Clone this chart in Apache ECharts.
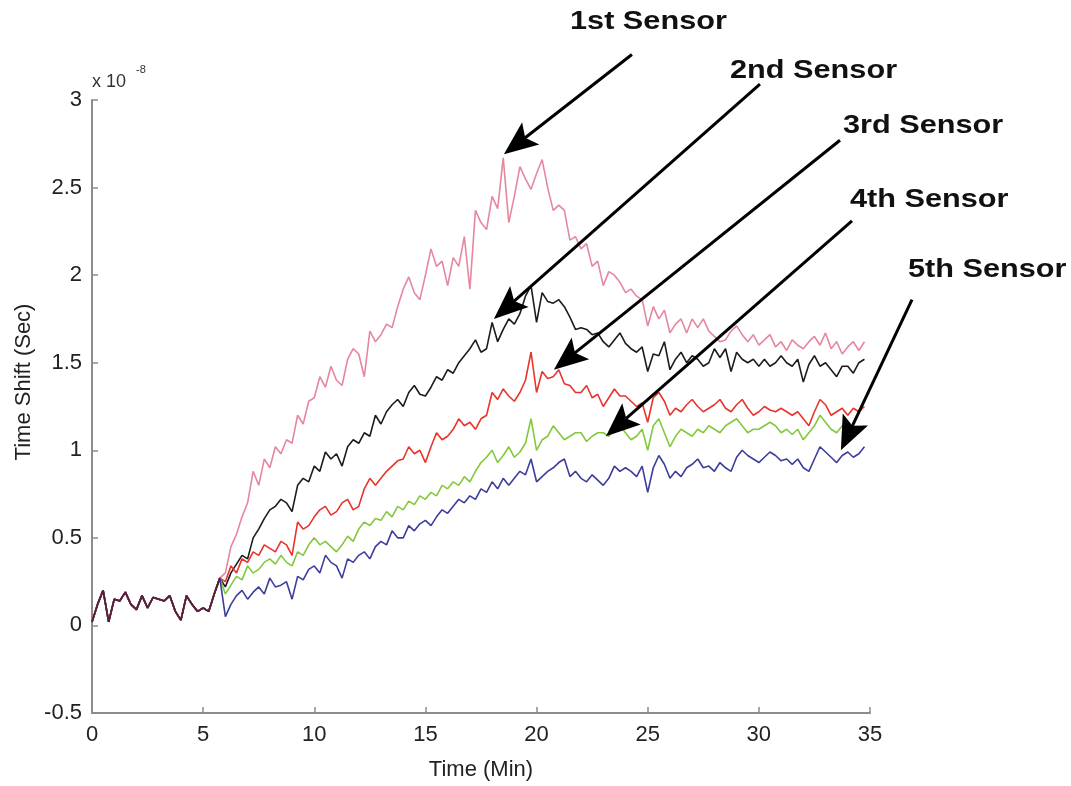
<!DOCTYPE html>
<html>
<head>
<meta charset="utf-8">
<script src="https://cdn.jsdelivr.net/npm/echarts@6/dist/echarts.min.js"></script>
<style>
html, body { margin: 0; padding: 0; background: #fff; }
#main { width: 1071px; height: 786px; }
</style>
</head>
<body>
<div id="main"></div>
<script>
// time axis (minutes): shared start, then the part where the sensors split
var baseTime = [0, 0.25, 0.5, 0.75, 1, 1.25, 1.5, 1.75, 2, 2.25, 2.5, 2.75,
    3, 3.25, 3.5, 3.75, 4, 4.25, 4.5, 4.75, 5, 5.25, 5.5, 5.75];
var sensorTime = [6, 6.25, 6.5, 6.75, 7, 7.25, 7.5, 7.75, 8, 8.25, 8.5, 8.75,
    9, 9.25, 9.5, 9.75, 10, 10.25, 10.5, 10.75, 11, 11.25, 11.5, 11.75,
    12, 12.25, 12.5, 12.75, 13, 13.25, 13.5, 13.75, 14, 14.25, 14.5, 14.75,
    15, 15.25, 15.5, 15.75, 16, 16.25, 16.5, 16.75, 17, 17.25, 17.5, 17.75,
    18, 18.25, 18.5, 18.75, 19, 19.25, 19.5, 19.75, 20, 20.25, 20.5, 20.75,
    21, 21.25, 21.5, 21.75, 22, 22.25, 22.5, 22.75, 23, 23.25, 23.5, 23.75,
    24, 24.25, 24.5, 24.75, 25, 25.25, 25.5, 25.75, 26, 26.25, 26.5, 26.75,
    27, 27.25, 27.5, 27.75, 28, 28.25, 28.5, 28.75, 29, 29.25, 29.5, 29.75,
    30, 30.25, 30.5, 30.75, 31, 31.25, 31.5, 31.75, 32, 32.25, 32.5, 32.75,
    33, 33.25, 33.5, 33.75, 34, 34.25, 34.5, 34.75];

// time shift, x 1e-8 s
var baseline = [0.02, 0.12, 0.20, 0.02, 0.15, 0.14, 0.19, 0.12, 0.09, 0.17, 0.10, 0.16,
    0.15, 0.14, 0.17, 0.08, 0.03, 0.17, 0.12, 0.08, 0.10, 0.08, 0.18, 0.27];

var sensor1 = [0.30, 0.45, 0.52, 0.62, 0.70, 0.88, 0.80, 0.95, 0.90, 1.02, 0.98, 1.06,
    1.04, 1.20, 1.15, 1.28, 1.30, 1.42, 1.36, 1.48, 1.40, 1.37, 1.52, 1.58,
    1.55, 1.42, 1.68, 1.62, 1.66, 1.72, 1.70, 1.82, 1.92, 1.99, 1.90, 1.86,
    2.00, 2.15, 2.05, 2.08, 1.94, 2.10, 2.05, 2.22, 1.92, 2.37, 2.30, 2.26,
    2.45, 2.38, 2.67, 2.30, 2.45, 2.62, 2.55, 2.49, 2.58, 2.66, 2.50, 2.37,
    2.40, 2.37, 2.20, 2.22, 2.15, 2.18, 2.05, 2.08, 1.94, 2.02, 2.00, 1.96,
    1.90, 1.92, 1.88, 1.86, 1.71, 1.82, 1.75, 1.80, 1.67, 1.72, 1.75, 1.67,
    1.75, 1.70, 1.75, 1.68, 1.65, 1.62, 1.63, 1.68, 1.71, 1.66, 1.62, 1.66,
    1.60, 1.63, 1.66, 1.59, 1.62, 1.57, 1.63, 1.60, 1.58, 1.62, 1.65, 1.60,
    1.67, 1.58, 1.62, 1.55, 1.59, 1.62, 1.57, 1.62];
var sensor2 = [0.22, 0.30, 0.35, 0.40, 0.38, 0.50, 0.55, 0.61, 0.66, 0.68, 0.72, 0.70,
    0.65, 0.80, 0.84, 0.82, 0.91, 0.88, 0.99, 0.95, 0.98, 0.91, 1.02, 1.06,
    1.04, 1.10, 1.08, 1.20, 1.15, 1.22, 1.26, 1.29, 1.25, 1.33, 1.37, 1.32,
    1.31, 1.36, 1.42, 1.40, 1.46, 1.44, 1.50, 1.54, 1.58, 1.63, 1.56, 1.58,
    1.73, 1.62, 1.69, 1.75, 1.72, 1.78, 1.88, 1.94, 1.73, 1.90, 1.85, 1.84,
    1.86, 1.82, 1.76, 1.69, 1.70, 1.69, 1.66, 1.67, 1.62, 1.59, 1.63, 1.67,
    1.61, 1.58, 1.56, 1.59, 1.45, 1.55, 1.54, 1.62, 1.46, 1.52, 1.56, 1.50,
    1.54, 1.52, 1.48, 1.50, 1.58, 1.53, 1.58, 1.45, 1.56, 1.52, 1.50, 1.52,
    1.48, 1.52, 1.48, 1.50, 1.54, 1.50, 1.48, 1.52, 1.39, 1.49, 1.54, 1.48,
    1.50, 1.46, 1.42, 1.48, 1.48, 1.44, 1.50, 1.52];
var sensor3 = [0.25, 0.34, 0.30, 0.38, 0.36, 0.42, 0.40, 0.46, 0.44, 0.42, 0.48, 0.46,
    0.40, 0.59, 0.55, 0.57, 0.62, 0.66, 0.68, 0.63, 0.65, 0.70, 0.72, 0.66,
    0.68, 0.78, 0.84, 0.80, 0.84, 0.88, 0.91, 0.94, 0.95, 1.02, 0.98, 1.00,
    0.93, 1.02, 1.10, 1.06, 1.08, 1.12, 1.18, 1.14, 1.16, 1.12, 1.18, 1.20,
    1.33, 1.29, 1.35, 1.31, 1.28, 1.33, 1.40, 1.56, 1.33, 1.45, 1.41, 1.42,
    1.46, 1.38, 1.37, 1.33, 1.33, 1.37, 1.30, 1.32, 1.25, 1.30, 1.35, 1.31,
    1.31, 1.28, 1.25, 1.27, 1.16, 1.30, 1.33, 1.28, 1.20, 1.24, 1.22, 1.26,
    1.29, 1.25, 1.22, 1.24, 1.26, 1.29, 1.24, 1.22, 1.26, 1.29, 1.24, 1.20,
    1.22, 1.25, 1.23, 1.22, 1.24, 1.22, 1.20, 1.22, 1.18, 1.14, 1.22, 1.29,
    1.26, 1.20, 1.22, 1.24, 1.20, 1.24, 1.22, 1.25];
var sensor4 = [0.18, 0.23, 0.28, 0.26, 0.34, 0.30, 0.32, 0.36, 0.38, 0.35, 0.40, 0.36,
    0.34, 0.42, 0.40, 0.46, 0.50, 0.46, 0.48, 0.45, 0.42, 0.46, 0.51, 0.48,
    0.55, 0.59, 0.57, 0.61, 0.60, 0.65, 0.62, 0.68, 0.66, 0.71, 0.69, 0.74,
    0.72, 0.76, 0.74, 0.80, 0.78, 0.82, 0.80, 0.85, 0.82, 0.88, 0.93, 0.96,
    1.00, 0.93, 0.97, 1.02, 0.96, 0.99, 1.04, 1.18, 1.00, 1.06, 1.08, 1.14,
    1.10, 1.06, 1.08, 1.10, 1.10, 1.05, 1.08, 1.10, 1.10, 1.08, 1.12, 1.14,
    1.10, 1.06, 1.08, 1.12, 1.00, 1.14, 1.18, 1.10, 1.02, 1.08, 1.12, 1.10,
    1.08, 1.12, 1.10, 1.14, 1.12, 1.10, 1.14, 1.16, 1.18, 1.14, 1.10, 1.12,
    1.12, 1.14, 1.16, 1.14, 1.10, 1.12, 1.09, 1.12, 1.06, 1.10, 1.14, 1.20,
    1.16, 1.12, 1.10, 1.14, 1.16, 1.12, 1.10, 1.14];
var sensor5 = [0.05, 0.12, 0.17, 0.20, 0.15, 0.19, 0.22, 0.18, 0.27, 0.22, 0.23, 0.25,
    0.15, 0.28, 0.26, 0.32, 0.34, 0.30, 0.40, 0.36, 0.34, 0.27, 0.38, 0.36,
    0.40, 0.42, 0.38, 0.45, 0.48, 0.46, 0.54, 0.50, 0.50, 0.57, 0.54, 0.58,
    0.60, 0.57, 0.62, 0.66, 0.64, 0.68, 0.72, 0.70, 0.74, 0.72, 0.78, 0.76,
    0.82, 0.78, 0.84, 0.80, 0.84, 0.88, 0.86, 0.95, 0.82, 0.85, 0.88, 0.90,
    0.93, 0.95, 0.85, 0.88, 0.84, 0.82, 0.86, 0.83, 0.80, 0.84, 0.91, 0.88,
    0.90, 0.88, 0.85, 0.91, 0.76, 0.90, 0.97, 0.92, 0.84, 0.88, 0.85, 0.90,
    0.92, 0.95, 0.90, 0.91, 0.88, 0.93, 0.90, 0.88, 0.96, 1.00, 0.97, 0.95,
    0.93, 0.96, 0.99, 0.97, 0.94, 0.95, 0.92, 0.95, 0.90, 0.88, 0.95, 1.02,
    0.99, 0.96, 0.93, 0.97, 0.99, 0.96, 0.98, 1.02];

var sensorNames = ['1st Sensor', '2nd Sensor', '3rd Sensor', '4th Sensor', '5th Sensor'];
var sensorColors = ['#e5879f', '#1c1c1c', '#e8342c', '#84c83e', '#3d3d9c'];
var yTicks = [-0.5, 0, 0.5, 1, 1.5, 2, 2.5, 3];

// arrow ends in data units (tail -> head)
var arrowTails = [[24.29, 3.26], [30.05, 3.09], [33.65, 2.77], [34.19, 2.31], [36.89, 1.86]];
var arrowTips = [[18.53, 2.69], [18.08, 1.75], [20.78, 1.46], [23.12, 1.08], [33.69, 1.00]];
// label boxes in px: left edge, middle y
var labelPos = [[570, 22], [730, 71], [843, 126], [850, 200], [908, 270]];

function pairs(t, v) {
    return t.map(function(x, i) { return [x, v[i]]; });
}

var myChart = echarts.init(document.getElementById('main'));
var allSensors = [sensor1, sensor2, sensor3, sensor4, sensor5];
var series = allSensors.map(function(s, i) {
    return {
        type: 'line',
        name: sensorNames[i],
        data: pairs(baseTime, baseline).concat(pairs(sensorTime, s)),
        showSymbol: false,
        lineStyle: { color: sensorColors[i], width: 1.6 },
        itemStyle: { color: sensorColors[i] },
        z: 2 + i
    };
});
// overlapped start, all sensors on top of each other
series.push({
    type: 'line',
    name: 'start',
    data: pairs(baseTime, baseline),
    showSymbol: false,
    lineStyle: { color: '#5e1d3c', width: 1.8 },
    z: 10
});

var font = 'Liberation Sans, Arial, sans-serif';
var graphics = [
    {
        type: 'text', x: 92, y: 82, z: 100,
        style: { text: 'x 10', font: '18px ' + font, fill: '#333', verticalAlign: 'middle' }
    },
    {
        type: 'text', x: 136, y: 70, z: 100,
        style: { text: '-8', font: '11px ' + font, fill: '#333', verticalAlign: 'middle' }
    },
    {
        type: 'text', x: 24, y: 382, rotation: Math.PI / 2, z: 100,
        style: { text: 'Time Shift (Sec)', font: '22px ' + font, fill: '#222', align: 'center', verticalAlign: 'middle' }
    }
];
sensorNames.forEach(function(n, i) {
    graphics.push({
        type: 'text', x: labelPos[i][0], y: labelPos[i][1], scaleX: 1.18, z: 100,
        style: { text: n, font: 'bold 26px ' + font, fill: '#111', verticalAlign: 'middle' }
    });
});

var option = {
    animation: false,
    backgroundColor: '#fff',
    grid: { left: 92, right: 201, top: 100, bottom: 70 },
    xAxis: {
        type: 'value', min: 0, max: 35, interval: 5,
        name: 'Time (Min)', nameLocation: 'middle', nameGap: 46,
        nameTextStyle: { fontSize: 22, color: '#222', fontFamily: font },
        axisLine: { onZero: false, lineStyle: { color: '#8c8c8c', width: 2 } },
        axisTick: { inside: true, length: 6, lineStyle: { color: '#8c8c8c', width: 1.5 } },
        axisLabel: { fontSize: 22, color: '#222', margin: 11, fontFamily: font },
        splitLine: { show: false }
    },
    yAxis: {
        type: 'value', min: yTicks[0], max: yTicks[yTicks.length - 1], interval: 0.5,
        axisLine: { show: true, onZero: false, lineStyle: { color: '#8c8c8c', width: 2 } },
        axisTick: { show: true, inside: true, length: 6, lineStyle: { color: '#8c8c8c', width: 1.5 } },
        axisLabel: { fontSize: 22, color: '#222', margin: 10, fontFamily: font },
        splitLine: { show: false }
    },
    graphic: graphics,
    series: series
};
myChart.setOption(option);

// arrows: ends go through the chart's own scales
function arrowParts(tail, tip) {
    var dx = tip[0] - tail[0], dy = tip[1] - tail[1];
    var len = Math.sqrt(dx * dx + dy * dy);
    var ux = dx / len, uy = dy / len;
    var hl = 34, hw = 14, notch = 7;
    var bx = tip[0] - ux * hl, by = tip[1] - uy * hl;
    var nx = -uy, ny = ux;
    var mid = [tip[0] - ux * (hl - notch), tip[1] - uy * (hl - notch)];
    return [
        { type: 'line', z: 100, shape: { x1: tail[0], y1: tail[1], x2: mid[0], y2: mid[1] },
          style: { stroke: '#000', lineWidth: 3 } },
        { type: 'polygon', z: 100,
          shape: { points: [tip, [bx + nx * hw, by + ny * hw], mid, [bx - nx * hw, by - ny * hw]] },
          style: { fill: '#000' } }
    ];
}
var arrows = [];
arrowTails.forEach(function(t, i) {
    var a = myChart.convertToPixel({ gridIndex: 0 }, t);
    var b = myChart.convertToPixel({ gridIndex: 0 }, arrowTips[i]);
    arrows = arrows.concat(arrowParts(a, b));
});
myChart.setOption({ graphic: graphics.concat(arrows) });

window.addEventListener('resize', function() {
    myChart.resize();
});
</script>
</body>
</html>
